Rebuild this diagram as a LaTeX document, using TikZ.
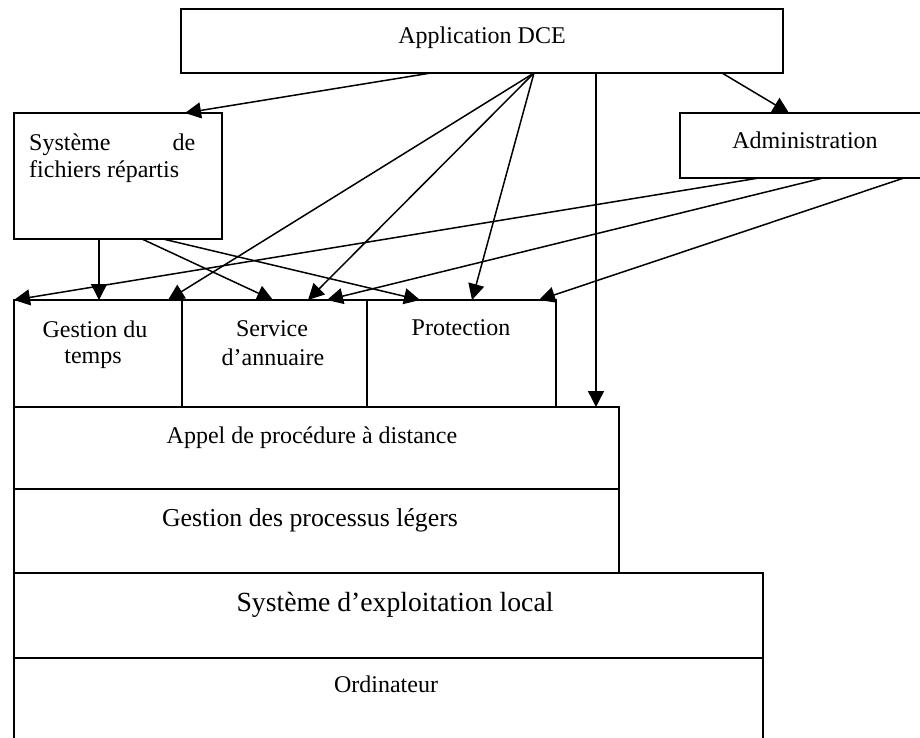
\documentclass[tikz,border=0pt]{standalone}
\usepackage{fontspec}
\setmainfont{Liberation Serif}
\usetikzlibrary{arrows.meta,calc}
\tikzset{
  box/.style={draw, line width=1.5pt, inner sep=0pt, outer sep=0pt, anchor=north west},
  txt/.style={inner sep=0pt, anchor=base, font=\fontsize{24}{29}\selectfont},
  arr/.style={line width=1.5pt, -{Triangle[length=16pt,width=16pt]}}
}
\begin{document}
\begin{tikzpicture}[x=1pt,y=-1pt]
\useasboundingbox (0,0) rectangle (920,738);
\clip (0,0) rectangle (920,738);
% boxes
\node[box, minimum width=602pt, minimum height=64pt] (app) at (181,9) {};
\node[box, minimum width=208pt, minimum height=126pt] (sys) at (14,113) {};
\node[box, minimum width=255pt, minimum height=65pt] (adm) at (680,113) {};
\node[box, minimum width=168pt, minimum height=107pt] (gt) at (14,300) {};
\node[box, minimum width=185pt, minimum height=107pt] (sa) at (182,300) {};
\node[box, minimum width=189pt, minimum height=107pt] (pr) at (367,300) {};
\node[box, minimum width=605pt, minimum height=82pt] (rpc) at (14,407) {};
\node[box, minimum width=605pt, minimum height=84pt] (thr) at (14,489) {};
\node[box, minimum width=749pt, minimum height=85pt] (os) at (14,573) {};
\node[box, minimum width=749pt, minimum height=90pt] (hw) at (14,658) {};
% texts
\node[txt] (tapp) at (482,44) {Application DCE};
\node[txt] (tadm) at (805,149) {Administration};
\node[txt, anchor=base west] (tsys1) at (29,151) {\hbox to 166pt{Système\hfill de}};
\node[txt, anchor=base west] (tsys2) at (29,178) {fichiers répartis};
\node[txt] (tgt1) at (95,337) {Gestion du};
\node[txt] (tgt2) at (93,363) {temps};
\node[txt] (tsa1) at (272,336) {Service};
\node[txt] (tsa2) at (273,365) {d’annuaire};
\node[txt] (tpr) at (461,335) {Protection};
\node[txt] (trpc) at (312,443) {Appel de procédure à distance};
\node[txt, font=\fontsize{25.8}{30}\selectfont] (tthr) at (310,526) {Gestion des processus légers};
\node[txt, font=\fontsize{27.7}{32}\selectfont] (tos) at (395,611) {Système d’exploitation local};
\node[txt] (thw) at (386,692) {Ordinateur};
% connectors from Application DCE
\draw[arr] ($(app.south west)+(250,0)$) -- ($(sys.north west)+(171,0)$);
\draw[arr] ($(app.south west)+(353,0)$) -- ($(gt.north west)+(154,0)$);
\draw[arr] ($(app.south west)+(353,0)$) -- ($(sa.north west)+(126,0)$);
\draw[arr] ($(app.south west)+(353,0)$) -- ($(pr.north west)+(105,0)$);
\draw[arr] ($(app.south west)+(415,0)$) -- ($(rpc.north west)+(582,0)$);
\draw[arr] ($(app.south west)+(541,0)$) -- ($(adm.north west)+(109,0)$);
% from Administration
\draw[arr] ($(adm.south west)+(79,0)$) -- (gt.north west);
\draw[arr] ($(adm.south west)+(143,0)$) -- ($(sa.north west)+(145,0)$);
\draw[arr] ($(adm.south west)+(224,0)$) -- ($(pr.north west)+(172,0)$);
% from Systeme de fichiers
\draw[arr] ($(sys.south west)+(85,0)$) -- ($(gt.north west)+(85,0)$);
\draw[arr] ($(sys.south west)+(128,0)$) -- ($(sa.north west)+(91,0)$);
\draw[arr] ($(sys.south west)+(149,0)$) -- ($(pr.north west)+(53,0)$);
\end{tikzpicture}
\end{document}
